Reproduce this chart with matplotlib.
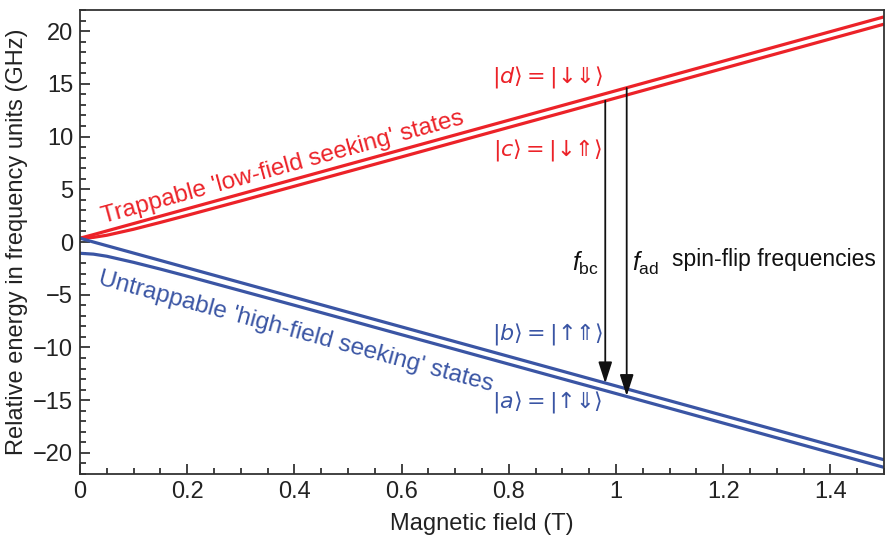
import matplotlib
matplotlib.use("Agg")
import matplotlib.pyplot as plt
from matplotlib.ticker import MultipleLocator

plt.rcParams['font.family'] = ['Liberation Sans', 'DejaVu Sans']
plt.rcParams['mathtext.fontset'] = 'custom'
plt.rcParams['mathtext.rm'] = 'Liberation Sans'
plt.rcParams['mathtext.it'] = 'Liberation Sans:italic'
plt.rcParams['mathtext.fallback'] = 'stixsans'

# field values (T) and the four hyperfine levels (GHz)
field = [0, 0.025, 0.05, 0.1, 0.15, 0.2, 0.3, 0.4, 0.5, 0.6, 0.7,
         0.8, 0.9, 1.0, 1.1, 1.2, 1.3, 1.4, 1.5]
level_d = [0.36, 0.70, 1.05, 1.75, 2.45, 3.15, 4.55, 5.95, 7.35, 8.75, 10.15,
           11.55, 12.95, 14.35, 15.75, 17.15, 18.55, 19.95, 21.35]
level_c = [0.36, 0.44, 0.64, 1.21, 1.86, 2.53, 3.90, 5.29, 6.68, 8.07, 9.47,
           10.87, 12.26, 13.66, 15.06, 16.46, 17.86, 19.26, 20.66]
level_b = [0.36, 0.0, -0.35, -1.05, -1.75, -2.45, -3.85, -5.25, -6.65, -8.05, -9.45,
           -10.85, -12.25, -13.65, -15.05, -16.45, -17.85, -19.25, -20.65]
level_a = [-1.07, -1.15, -1.35, -1.93, -2.57, -3.24, -4.62, -6.0, -7.39, -8.79, -10.18,
           -11.58, -12.98, -14.37, -15.77, -17.17, -18.57, -19.97, -21.37]

# spin-flip arrows
arrow_x = [0.98, 1.02]
arrow_top = [13.4, 14.6]
arrow_bottom = [-13.4, -14.6]

red = '#ec2228'
blue = '#3a55a4'
ink = '#222222'

fig = plt.figure(figsize=(8.86, 5.36), dpi=100)
ax = fig.add_axes([0.0903, 0.1157, 0.9074, 0.8656])

ax.plot(field, level_d, color=red, lw=2.3, solid_capstyle='butt')
ax.plot(field, level_c, color=red, lw=2.3, solid_capstyle='butt')
ax.plot(field, level_b, color=blue, lw=2.3, solid_capstyle='butt')
ax.plot(field, level_a, color=blue, lw=2.3, solid_capstyle='butt')

for x0, y0, y1 in zip(arrow_x, arrow_top, arrow_bottom):
    ax.annotate('', xy=(x0, y1), xytext=(x0, y0),
                arrowprops=dict(arrowstyle='-|>,head_length=1.3,head_width=0.42',
                                color='#111111', lw=1.3, shrinkA=0, shrinkB=0))

ax.set_xlim(0, 1.5)
ax.set_ylim(-22, 22)
ax.xaxis.set_minor_locator(MultipleLocator(0.05))
ax.yaxis.set_minor_locator(MultipleLocator(1))
ax.set_xticks([0, 0.2, 0.4, 0.6, 0.8, 1.0, 1.2, 1.4])
ax.set_xticklabels(['0', '0.2', '0.4', '0.6', '0.8', '1', '1.2', '1.4'])
ax.set_yticks([-20, -15, -10, -5, 0, 5, 10, 15, 20])
ax.set_yticklabels(['\u221220', '\u221215', '\u221210', '\u22125', '0', '5', '10', '15', '20'])

ax.tick_params(which='both', direction='in', top=False, right=False, color=ink, width=1.2)
ax.tick_params(which='major', length=7, labelsize=17, pad=5, labelcolor=ink)
ax.tick_params(which='minor', length=4)
for sp in ax.spines.values():
    sp.set_color('#333333')
    sp.set_linewidth(1.3)

ax.set_xlabel('Magnetic field (T)', fontsize=17, color=ink, labelpad=7)
ax.set_ylabel('Relative energy in frequency units (GHz)', fontsize=17, color=ink, labelpad=4)

ax.text(0.378, 7.1, "Trappable 'low-field seeking' states", color=red, fontsize=17.5,
        rotation=15.4, ha='center', va='center', rotation_mode='anchor')
ax.text(0.402, -8.5, "Untrappable 'high-field seeking' states", color=blue, fontsize=17.5,
        rotation=-15.2, ha='center', va='center', rotation_mode='anchor')

kets = [(15.66, 'd', '\u2193\u21d3', red),
        (8.68, 'c', '\u2193\u21d1', red),
        (-8.77, 'b', '\u2191\u21d1', blue),
        (-15.2, 'a', '\u2191\u21d3', blue)]
for ky, kname, kspins, kcol in kets:
    ax.text(0.872, ky, r'$|' + kname + r'\rangle = |\text{' + kspins + r'}\rangle$',
            color=kcol, fontsize=16, ha='center', va='center', math_fontfamily='dejavusans')

ax.text(0.969, -2.0, r'$f_{\mathrm{bc}}$', color='#111111', fontsize=18, ha='right', va='center')
ax.text(1.03, -2.0, r'$f_{\mathrm{ad}}$', color='#111111', fontsize=18, ha='left', va='center')
ax.text(1.105, -1.7, 'spin-flip frequencies', color='#111111', fontsize=16.5, ha='left', va='center')

fig.savefig('out.png', dpi=100)
